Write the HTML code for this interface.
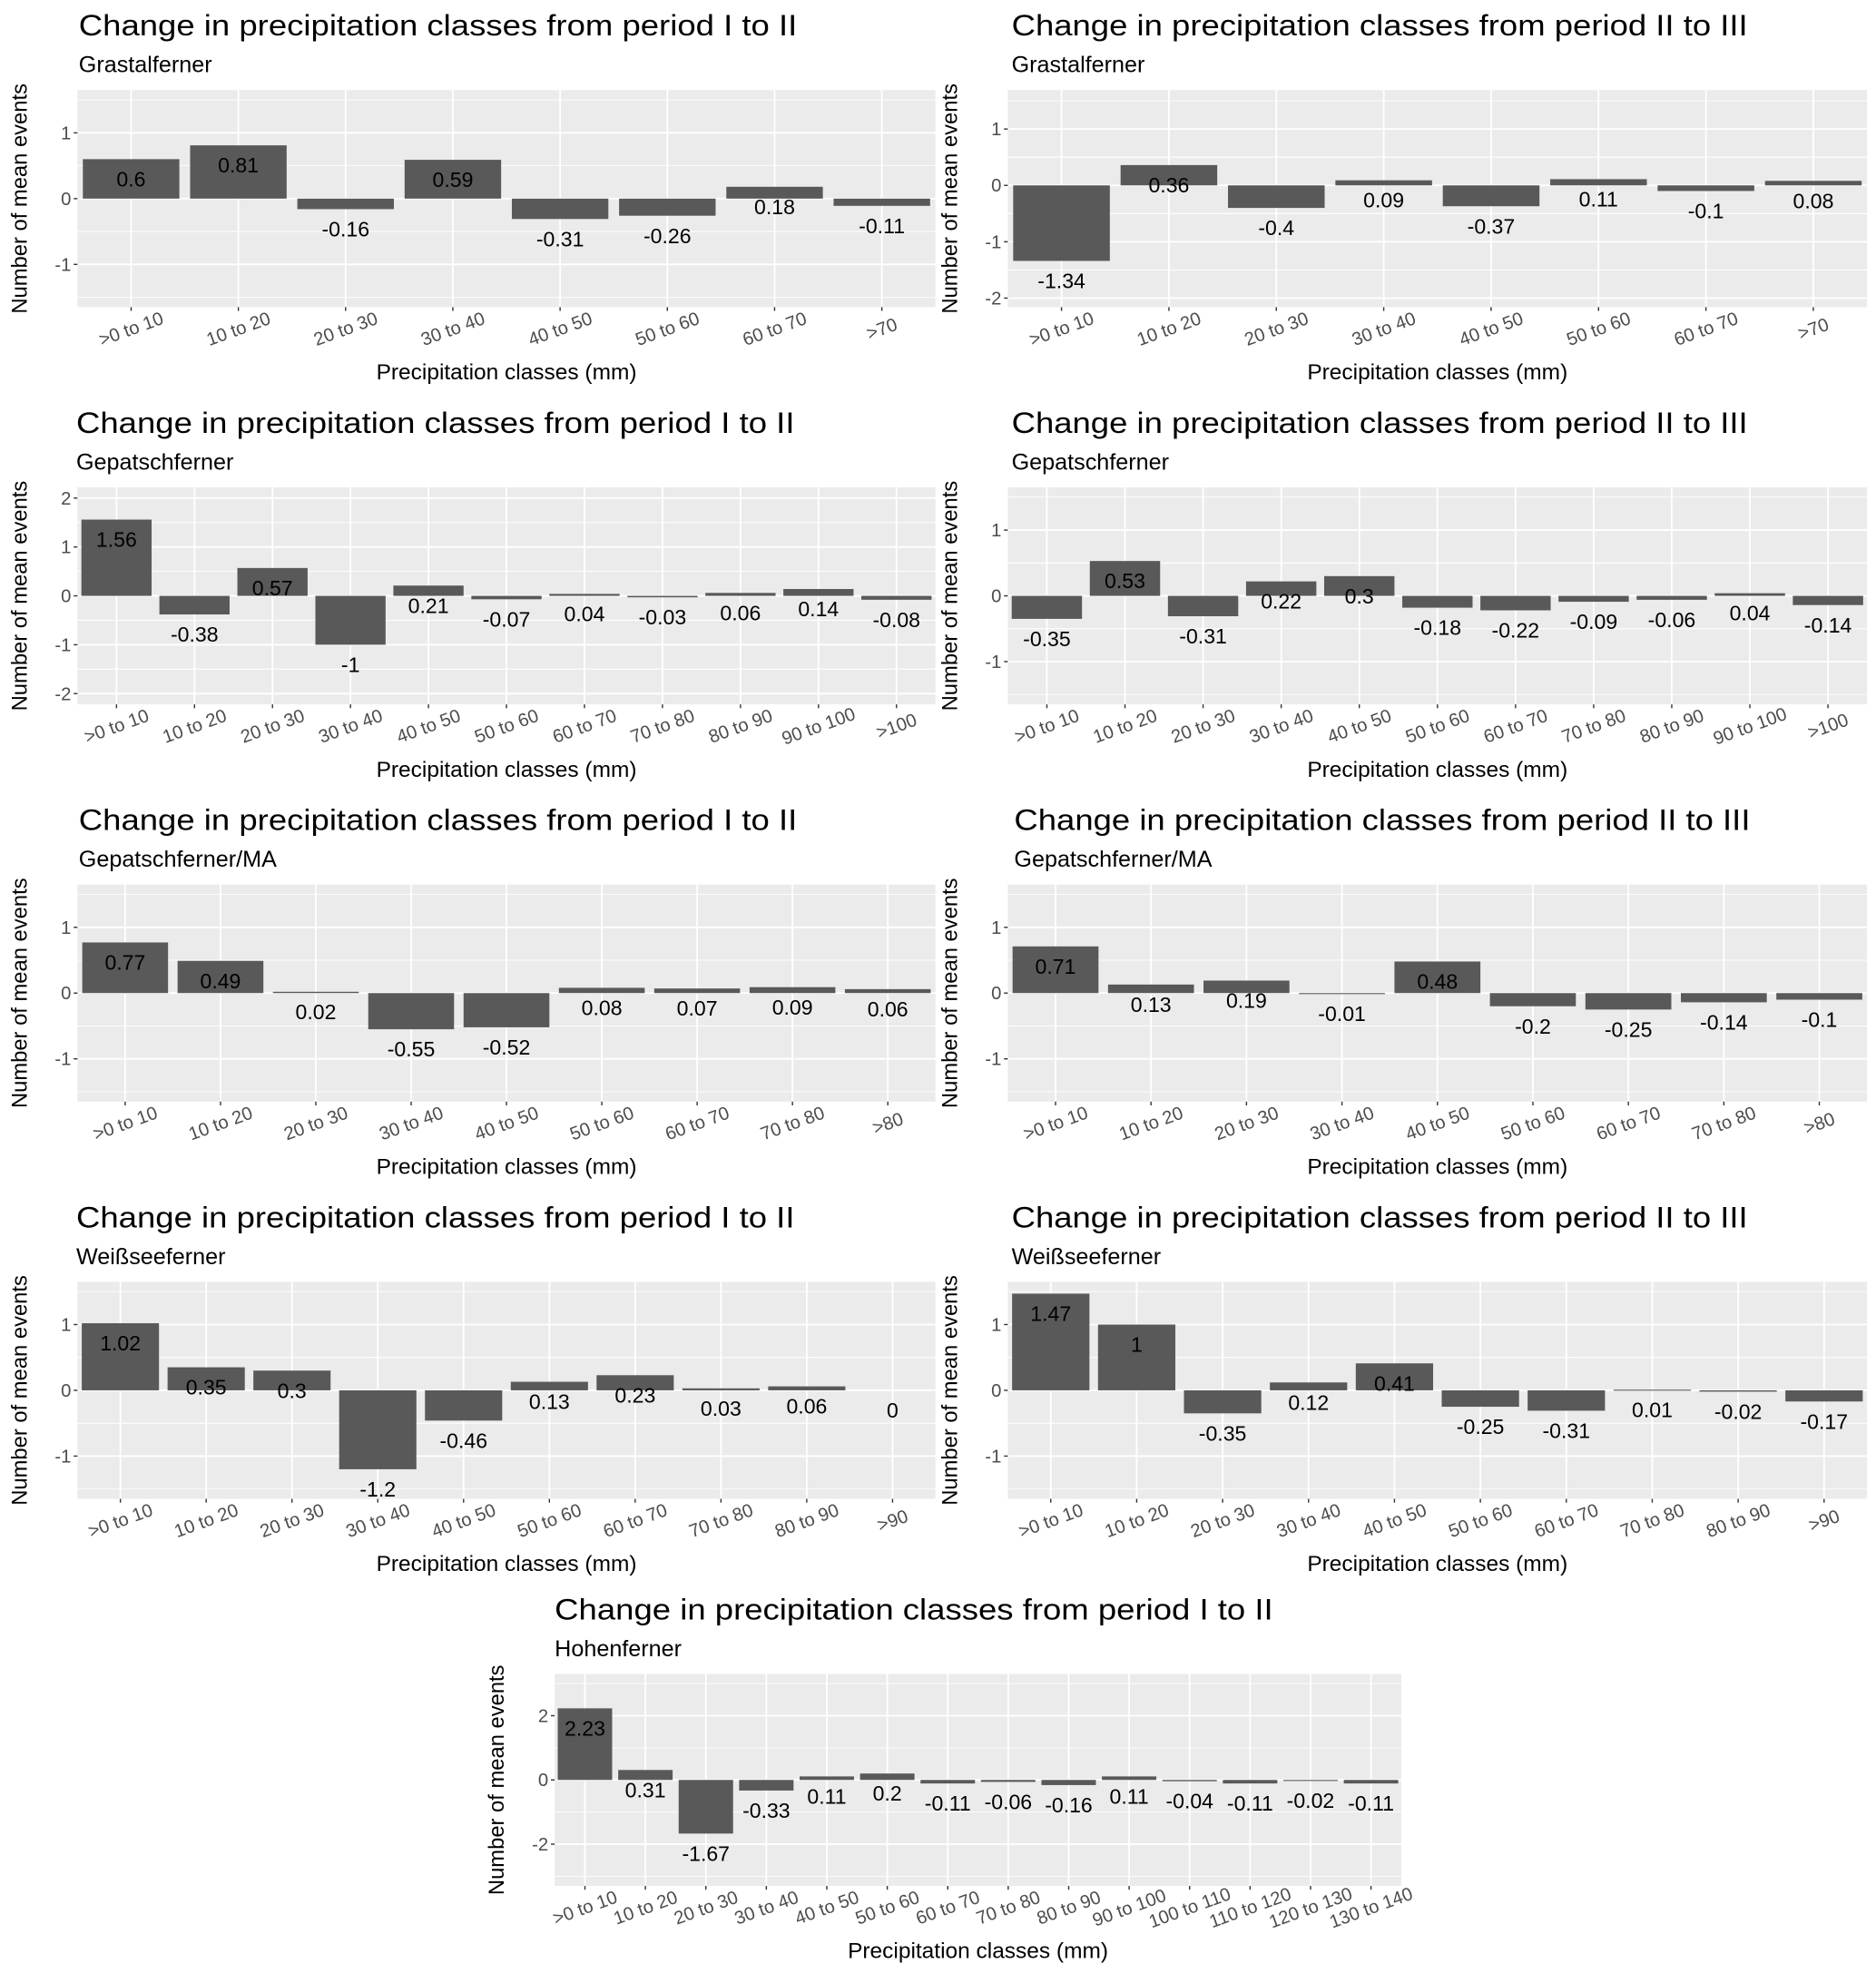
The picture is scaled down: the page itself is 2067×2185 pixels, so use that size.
<!DOCTYPE html>
<html><head><meta charset="utf-8"><style>
html,body{margin:0;padding:0;background:#fff}
svg{display:block}
text{font-family:"Liberation Sans",Arial,sans-serif}
</style></head><body>
<svg id="fig" width="2067" height="2185" viewBox="0 0 1478 1562.5" xmlns="http://www.w3.org/2000/svg"></svg>
<script>
// category arrays
const cats8 = [">0 to 10","10 to 20","20 to 30","30 to 40","40 to 50","50 to 60","60 to 70",">70"];
const cats11 = [">0 to 10","10 to 20","20 to 30","30 to 40","40 to 50","50 to 60","60 to 70","70 to 80","80 to 90","90 to 100",">100"];
const cats9 = [">0 to 10","10 to 20","20 to 30","30 to 40","40 to 50","50 to 60","60 to 70","70 to 80",">80"];
const cats10 = [">0 to 10","10 to 20","20 to 30","30 to 40","40 to 50","50 to 60","60 to 70","70 to 80","80 to 90",">90"];
const cats14 = [">0 to 10","10 to 20","20 to 30","30 to 40","40 to 50","50 to 60","60 to 70","70 to 80","80 to 90","90 to 100","100 to 110","110 to 120","120 to 130","130 to 140"];
// series values
const grastalI = [0.6,0.81,-0.16,0.59,-0.31,-0.26,0.18,-0.11];
const grastalII = [-1.34,0.36,-0.4,0.09,-0.37,0.11,-0.1,0.08];
const gepatschI = [1.56,-0.38,0.57,-1,0.21,-0.07,0.04,-0.03,0.06,0.14,-0.08];
const gepatschII = [-0.35,0.53,-0.31,0.22,0.3,-0.18,-0.22,-0.09,-0.06,0.04,-0.14];
const gepatschMAI = [0.77,0.49,0.02,-0.55,-0.52,0.08,0.07,0.09,0.06];
const gepatschMAII = [0.71,0.13,0.19,-0.01,0.48,-0.2,-0.25,-0.14,-0.1];
const weissI = [1.02,0.35,0.3,-1.2,-0.46,0.13,0.23,0.03,0.06,0];
const weissII = [1.47,1,-0.35,0.12,0.41,-0.25,-0.31,0.01,-0.02,-0.17];
const hohenI = [2.23,0.31,-1.67,-0.33,0.11,0.2,-0.11,-0.06,-0.16,0.11,-0.04,-0.11,-0.02,-0.11];
// y tick labels
const ticksA = [-1,0,1];
const ticksB = [-2,-1,0,1];
const ticksC = [-2,-1,0,1,2];
const ticksI = [-2,0,2];
// y-axis limits
const limA = [-1.65,1.65];
const limB = [-2.16,1.69];
const limC = [-2.22,2.22];
const limI = [-3.3,3.3];

const T1 = "Change in precipitation classes from period I to II";
const T2 = "Change in precipitation classes from period II to III";
const panels = [
 {id:"grastalferner-i-ii",title:T1,sub:"Grastalferner",cats:cats8,vals:grastalI,ticks:ticksA,lim:limA,x0:61,x1:737,y0:71,tx:62},
 {id:"grastalferner-ii-iii",title:T2,sub:"Grastalferner",cats:cats8,vals:grastalII,ticks:ticksB,lim:limB,x0:794,x1:1471,y0:71,tx:797},
 {id:"gepatschferner-i-ii",title:T1,sub:"Gepatschferner",cats:cats11,vals:gepatschI,ticks:ticksC,lim:limC,x0:61,x1:737,y0:384,tx:60},
 {id:"gepatschferner-ii-iii",title:T2,sub:"Gepatschferner",cats:cats11,vals:gepatschII,ticks:ticksA,lim:limA,x0:794,x1:1471,y0:384,tx:797},
 {id:"gepatschferner-ma-i-ii",title:T1,sub:"Gepatschferner/MA",cats:cats9,vals:gepatschMAI,ticks:ticksA,lim:limA,x0:61,x1:737,y0:697,tx:62},
 {id:"gepatschferner-ma-ii-iii",title:T2,sub:"Gepatschferner/MA",cats:cats9,vals:gepatschMAII,ticks:ticksA,lim:limA,x0:794,x1:1471,y0:697,tx:799},
 {id:"weisseeferner-i-ii",title:T1,sub:"Weißseeferner",cats:cats10,vals:weissI,ticks:ticksA,lim:limA,x0:61,x1:737,y0:1010,tx:60},
 {id:"weisseeferner-ii-iii",title:T2,sub:"Weißseeferner",cats:cats10,vals:weissII,ticks:ticksA,lim:limA,x0:794,x1:1471,y0:1010,tx:797},
 {id:"hohenferner-i-ii",title:T1,sub:"Hohenferner",cats:cats14,vals:hohenI,ticks:ticksI,lim:limI,x0:437,x1:1104,y0:1319,tx:437,h:167}
];
const NS="http://www.w3.org/2000/svg";
const svg=document.getElementById('fig');
function mk(tag,attrs,parent){const e=document.createElementNS(NS,tag);for(const k in attrs)e.setAttribute(k,attrs[k]);(parent||svg).appendChild(e);return e;}

panels.forEach(p=>{
  const H=p.h||171;
  const g=mk('g',{});
  
  
  const yS=v=>p.y0+(p.lim[1]-v)/(p.lim[1]-p.lim[0])*H;
  const n=p.cats.length, bw=(p.x1-p.x0)/n;
  const xS=i=>p.x0+bw*(i+0.5);
  const t=mk('text',{x:p.tx,y:p.y0-43,'font-size':23,textLength:p.title.length>51?580:566,lengthAdjust:'spacingAndGlyphs',fill:'#000'},g);
  t.textContent=p.title;
  
  
  const s=mk('text',{x:p.tx,y:p.y0-14,'font-size':18,fill:'#000'},g);
  s.textContent=p.sub;
  
  
  const bg=mk('rect',{x:p.x0,y:p.y0,width:p.x1-p.x0,height:H,fill:'#ebebeb'},g);
  
  
  // minor y grid
  for(let i=0;i<p.ticks.length-1;i++){
    const step=p.ticks[i+1]-p.ticks[i];
    [p.ticks[i]-step/2,p.ticks[i]+step/2,p.ticks[i+1]+step/2].forEach(v=>{
      if(v>p.lim[0]&&v<p.lim[1]){const y=yS(v);mk('line',{x1:p.x0,x2:p.x1,y1:y,y2:y,stroke:'#fff','stroke-width':0.6},g);}
    });
  }
  p.ticks.forEach(v=>{const y=yS(v);
    const l=mk('line',{x1:p.x0,x2:p.x1,y1:y,y2:y,stroke:'#fff','stroke-width':1.3},g);
    
    
    mk('line',{x1:p.x0-3,x2:p.x0,y1:y,y2:y,stroke:'#333','stroke-width':1},g);
    const tl=mk('text',{x:p.x0-5,y:y+5,'font-size':14.5,fill:'#4d4d4d','text-anchor':'end'},g);
    tl.textContent=String(v);
    
    
  });
  p.cats.forEach((c,i)=>{const x=xS(i);
    mk('line',{x1:x,x2:x,y1:p.y0,y2:p.y0+H,stroke:'#fff','stroke-width':1.3},g);
    mk('line',{x1:x,x2:x,y1:p.y0+H,y2:p.y0+H+3,stroke:'#333','stroke-width':1},g);
    const ly=p.y0+H+17;
    const xl=mk('text',{x:x,y:ly+5,'font-size':14.5,fill:'#4d4d4d','text-anchor':'middle',transform:`rotate(-20 ${x} ${ly})`},g);
    xl.textContent=c;
    
    
  });
  p.vals.forEach((v,i)=>{
    const x=xS(i), y0=yS(0), yv=yS(v);
    if(v!==0){
      const b=mk('rect',{x:x-bw*0.45,y:Math.min(y0,yv),width:bw*0.9,height:Math.max(Math.abs(yv-y0),0.8),fill:'#595959'},g);
      
      
    }
    const vl=mk('text',{x:x,y:yv+21.5,'font-size':16.5,fill:'#000','text-anchor':'middle'},g);
    vl.textContent=String(v);
    
    
  });
  const xt=mk('text',{x:(p.x0+p.x1)/2,y:p.y0+H+57,'font-size':17.5,fill:'#000','text-anchor':'middle'},g);
  xt.textContent="Precipitation classes (mm)";
  
  
  const cy=p.y0+H/2, cx=p.x0-40;
  const yt=mk('text',{x:cx,y:cy,'font-size':17,fill:'#000','text-anchor':'middle',transform:`rotate(-90 ${cx} ${cy})`},g);
  yt.textContent="Number of mean events";
  
  
});
</script>
</body></html>
